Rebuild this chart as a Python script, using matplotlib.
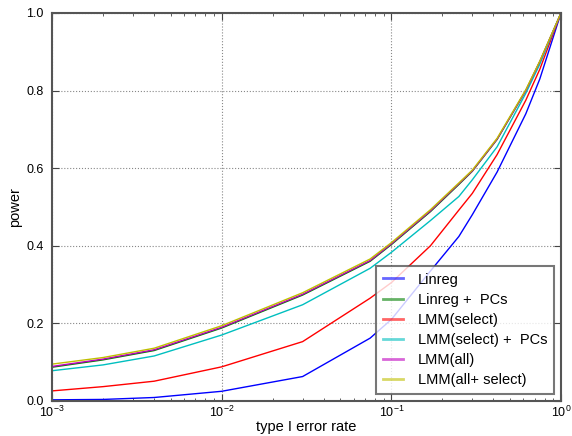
import numpy as np
import matplotlib.pyplot as plt

plt.rcParams['font.family'] = ['Liberation Sans', 'DejaVu Sans']
plt.rcParams['mathtext.fontset'] = 'custom'
plt.rcParams['mathtext.rm'] = 'Liberation Sans'

# type I error rate (alpha) and power for each method
alpha = [0.001, 0.002, 0.004, 0.01, 0.03, 0.075, 0.1, 0.17, 0.25, 0.3, 0.42, 0.62, 0.75, 1.0]

linreg = [0.003, 0.004, 0.009, 0.025, 0.063, 0.162, 0.21, 0.335, 0.424, 0.48, 0.59, 0.74, 0.83, 1.0]
linreg_pcs = [0.087, 0.106, 0.130, 0.188, 0.273, 0.360, 0.403, 0.488, 0.558, 0.592, 0.674, 0.80, 0.874, 1.0]
lmm_select = [0.026, 0.037, 0.051, 0.088, 0.153, 0.265, 0.305, 0.40, 0.492, 0.535, 0.635, 0.775, 0.855, 1.0]
lmm_select_pcs = [0.078, 0.093, 0.116, 0.170, 0.248, 0.342, 0.383, 0.465, 0.527, 0.570, 0.655, 0.793, 0.868, 1.0]
lmm_all = [0.089, 0.108, 0.132, 0.190, 0.275, 0.362, 0.405, 0.490, 0.560, 0.593, 0.675, 0.80, 0.875, 1.0]
lmm_all_select = [0.095, 0.112, 0.136, 0.194, 0.279, 0.366, 0.408, 0.493, 0.562, 0.595, 0.677, 0.802, 0.876, 1.0]

series = [
    ('Linreg', linreg, 'b'),
    ('Linreg +  PCs', linreg_pcs, 'g'),
    ('LMM(select)', lmm_select, 'r'),
    ('LMM(select) +  PCs', lmm_select_pcs, 'c'),
    ('LMM(all)', lmm_all, 'm'),
    ('LMM(all+ select)', lmm_all_select, 'y'),
]

fig = plt.figure(figsize=(5.72, 4.36), dpi=100)
ax = fig.add_axes([0.0909, 0.0803, 0.8899, 0.890])

for label, vals, col in series:
    ax.plot(alpha, vals, color=col, lw=1.0, label=label)

ax.set_xscale('log')
ax.set_xlim(1e-3, 1.0)
ax.set_ylim(0.0, 1.0)
ax.set_yticks([0.0, 0.2, 0.4, 0.6, 0.8, 1.0])
ax.set_xlabel('type I error rate', fontsize=10.5, labelpad=0)
ax.set_ylabel('power', fontsize=10.5, labelpad=3)

ax.grid(True, which='major', linestyle=':', color='#888888', lw=0.8)
ax.tick_params(which='both', direction='in', top=True, right=True,
               labelsize=9, color='#444444')
ax.tick_params(which='major', length=5)
ax.tick_params(which='minor', length=2.5)
ax.tick_params(axis='x', which='major', pad=3)
ax.tick_params(axis='y', which='major', pad=6)
for sp in ax.spines.values():
    sp.set_color('#555555')
    sp.set_linewidth(1.5)

leg = ax.legend(loc='lower right', fontsize=10.5, fancybox=False,
                borderaxespad=0.5, handlelength=1.4, handletextpad=1.0,
                labelspacing=0.42, borderpad=0.45)
leg.get_frame().set_edgecolor('#555555')
leg.get_frame().set_linewidth(1.5)
for h in leg.get_lines():
    h.set_linewidth(2.0)
    h.set_alpha(0.6)

fig.savefig('out.png', dpi=100)
